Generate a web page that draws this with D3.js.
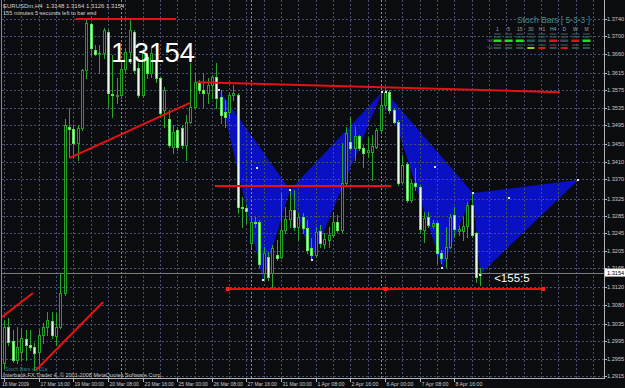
<!DOCTYPE html>
<html><head><meta charset="utf-8">
<script src="https://cdn.jsdelivr.net/npm/d3@7"></script>
<style>
html,body{margin:0;padding:0;background:#0b0c10;}
svg{display:block;}
text{font-family:"Liberation Sans",Arial,sans-serif;white-space:pre;}
</style></head><body>
<svg id="c" width="625" height="388"></svg>
<script>
// ---------------- data ----------------
const opens  = [1.2945,1.3029,1.2996,1.2952,1.2971,1.3001,1.2987,1.2982,1.2971,1.3010,1.3029,1.3042,1.3008,1.3029,1.3107,1.3491,1.3486,1.3454,1.3488,1.3622,1.3728,1.3668,1.3659,1.3662,1.3710,1.3567,1.3562,1.3564,1.3625,1.3664,1.3710,1.3627,1.3564,1.3652,1.3615,1.3645,1.3604,1.3530,1.3510,1.3444,1.3484,1.3488,1.3449,1.3502,1.3537,1.3594,1.3576,1.3569,1.3588,1.3606,1.3560,1.3525,1.3525,1.3564,1.3564,1.3306,1.3303,1.3223,1.3271,1.3271,1.3153,1.3190,1.3153,1.3195,1.3190,1.3253,1.3278,1.3299,1.3259,1.3283,1.3257,1.3211,1.3195,1.3250,1.3220,1.3230,1.3241,1.3271,1.3253,1.3361,1.3456,1.3442,1.3470,1.3442,1.3433,1.3433,1.3444,1.3484,1.3541,1.3571,1.3530,1.3502,1.3364,1.3405,1.3322,1.3361,1.3352,1.3253,1.3283,1.3262,1.3269,1.3199,1.3188,1.3213,1.3287,1.3250,1.3250,1.3262,1.3310,1.3246,1.3148];
const highs  = [1.3045,1.3049,1.3022,1.3029,1.3026,1.3022,1.3022,1.2992,1.3022,1.3038,1.3063,1.3063,1.3061,1.3153,1.3510,1.3534,1.3495,1.3495,1.3625,1.3738,1.3731,1.3680,1.3680,1.3719,1.3715,1.3657,1.3604,1.3645,1.3673,1.3738,1.3715,1.3638,1.3668,1.3662,1.3675,1.3652,1.3606,1.3583,1.3530,1.3495,1.3491,1.3495,1.3518,1.3638,1.3615,1.3599,1.3615,1.3604,1.3611,1.3638,1.3576,1.3553,1.3571,1.3588,1.3569,1.3329,1.3310,1.3283,1.3283,1.3276,1.3213,1.3202,1.3218,1.3230,1.3338,1.3306,1.3345,1.3345,1.3292,1.3292,1.3276,1.3234,1.3259,1.3264,1.3246,1.3259,1.3294,1.3287,1.3454,1.3491,1.3514,1.3491,1.3472,1.3449,1.3468,1.3472,1.3488,1.3571,1.3583,1.3576,1.3534,1.3507,1.3426,1.3409,1.3368,1.3396,1.3357,1.3294,1.3294,1.3276,1.3271,1.3206,1.3259,1.3290,1.3306,1.3262,1.3283,1.3317,1.3336,1.3248,1.3164];
const lows   = [1.2934,1.2987,1.2947,1.2945,1.2952,1.2952,1.2975,1.2929,1.2945,1.2992,1.3010,1.3003,1.2987,1.3026,1.3102,1.3421,1.3419,1.3414,1.3484,1.3604,1.3657,1.3657,1.3615,1.3650,1.3537,1.3514,1.3546,1.3558,1.3615,1.3638,1.3615,1.3560,1.3560,1.3604,1.3606,1.3594,1.3514,1.3491,1.3444,1.3430,1.3437,1.3442,1.3414,1.3500,1.3534,1.3569,1.3537,1.3546,1.3558,1.3534,1.3500,1.3491,1.3511,1.3553,1.3292,1.3259,1.3269,1.3213,1.3259,1.3167,1.3137,1.3137,1.3121,1.3183,1.3188,1.3246,1.3259,1.3253,1.3230,1.3246,1.3199,1.3183,1.3190,1.3213,1.3211,1.3213,1.3236,1.3248,1.3248,1.3357,1.3437,1.3414,1.3437,1.3398,1.3421,1.3368,1.3442,1.3479,1.3537,1.3523,1.3500,1.3357,1.3361,1.3317,1.3317,1.3345,1.3246,1.3225,1.3259,1.3257,1.3176,1.3176,1.3167,1.3211,1.3236,1.3241,1.3230,1.3236,1.3236,1.3132,1.3126];
const closes = [1.3029,1.2994,1.2952,1.2982,1.3003,1.2987,1.2982,1.2968,1.3010,1.3029,1.3045,1.3010,1.3029,1.3107,1.3495,1.3486,1.3454,1.3488,1.3622,1.3731,1.3673,1.3659,1.3662,1.3715,1.3569,1.3564,1.3564,1.3625,1.3664,1.3715,1.3622,1.3564,1.3662,1.3615,1.3662,1.3604,1.3523,1.3576,1.3449,1.3479,1.3444,1.3449,1.3502,1.3537,1.3594,1.3576,1.3569,1.3588,1.3606,1.3558,1.3518,1.3514,1.3564,1.3569,1.3306,1.3303,1.3296,1.3271,1.3269,1.3174,1.3199,1.3144,1.3211,1.3188,1.3253,1.3278,1.3299,1.3259,1.3283,1.3257,1.3206,1.3195,1.3248,1.3223,1.3232,1.3241,1.3271,1.3253,1.3361,1.3477,1.3442,1.3470,1.3442,1.3430,1.3437,1.3447,1.3484,1.3541,1.3571,1.3530,1.3502,1.3361,1.3403,1.3322,1.3361,1.3354,1.3255,1.3280,1.3264,1.3269,1.3199,1.3188,1.3213,1.3283,1.3255,1.3255,1.3262,1.3310,1.3241,1.3144,1.3154];

const priceTicks = [1.3740,1.3700,1.3660,1.3615,1.3575,1.3535,1.3495,1.3450,1.3410,1.3370,1.3325,1.3285,1.3245,1.3205,1.3165,1.3120,1.3080,1.3035,1.2995,1.2955,1.2915];
const timeTickBars = [0,8,16,24,32,40,48,56,64,72,80,88,96,104];
const timeTickLabels = ["16 Mar 2009","17 Mar 16:00","19 Mar 00:00","20 Mar 08:00","23 Mar 16:00","25 Mar 00:00","26 Mar 08:00","27 Mar 16:00","31 Mar 00:00","1 Apr 08:00","2 Apr 16:00","6 Apr 00:00","7 Apr 08:00","8 Apr 16:00"];
const weekSeparatorBars = [27.1, 57.1, 87.1];

const bidPrice = 1.3154;

// harmonic pattern points X,A,B,C,D
const pattern1Bars   = [49.7, 59.8, 66.05, 71.1, 87.3];
const pattern1Prices = [1.3576, 1.3137, 1.3345, 1.3183, 1.3571];
const pattern2Bars   = [88.2, 101.2, 108.3, 109.9, 132.6];
const pattern2Prices = [1.3571, 1.3165, 1.3338, 1.3149, 1.3368];
const markerBars   = [58.4, 99.5, 116.6];
const markerPrices = [1.3396, 1.3398, 1.3326];

// red trend lines
const trendStartBars   = [16.6, 15.2, 44.6, 48.7, 51.7, -0.5, 7.4];
const trendStartPrices = [1.3740, 1.3419, 1.3594, 1.3354, 1.3116, 1.3051, 1.2929];
const trendEndBars     = [39.7, 42.96, 128.4, 89.4, 124.5, 6.7, 22.9];
const trendEndPrices   = [1.3740, 1.3546, 1.3571, 1.3354, 1.3116, 1.3107, 1.3086];

// stoch bars panel
const stochFrames = ["1","5","15","30","H1","H4","D","W","M"];
const stochMain   = ["up","up","up","flat","flat","down","flat","down","up"];
const stochSignal = ["flat","flat","flat","weak","down","flat","down","flat","flat"];

// ---------------- drawing ----------------
const W = 625, H = 388;
const plotL = 2, plotR = 604, plotT = 0, plotB = 378;
const x = d3.scaleLinear().domain([0, 139]).range([4, 4 + 139 * 4.33]);
const y = d3.scaleLinear().domain([1.2915, 1.3740]).range([376, 19]);
const px = v => Math.round(x(v)) + 0.5;
const py = v => Math.round(y(v)) + 0.5;

const svg = d3.select("#c");
svg.append("rect").attr("width", W).attr("height", H).attr("fill", "#0b0c10");

svg.append("defs").append("clipPath").attr("id", "plot")
  .append("rect").attr("x", plotL).attr("y", plotT).attr("width", plotR - plotL).attr("height", plotB - plotT);
const g = svg.append("g").attr("clip-path", "url(#plot)");

// blue pattern triangles (background objects)
function triangles(bars, prices) {
  const p = bars.map((b, i) => [x(b), y(prices[i])]);
  return [[p[0], p[1], p[2]], [p[2], p[3], p[4]]];
}
const tris = triangles(pattern1Bars, pattern1Prices).concat(triangles(pattern2Bars, pattern2Prices));
g.selectAll("polygon.tri").data(tris).join("polygon")
  .attr("points", d => d.map(q => q.join(",")).join(" "))
  .attr("fill", "#0a10c4");

// grid
g.selectAll("line.hg").data(priceTicks).join("line")
  .attr("x1", plotL).attr("x2", plotR).attr("y1", d => py(d)).attr("y2", d => py(d))
  .attr("stroke", "#46506a").attr("stroke-dasharray", "2,2");
g.selectAll("line.vg").data(d3.range(0, 140, 4)).join("line")
  .attr("x1", d => px(d)).attr("x2", d => px(d)).attr("y1", plotT).attr("y2", plotB)
  .attr("stroke", "#46506a").attr("stroke-dasharray", "2,2");
g.selectAll("line.sep").data(weekSeparatorBars).join("line")
  .attr("x1", d => px(d)).attr("x2", d => px(d)).attr("y1", plotT).attr("y2", plotB)
  .attr("stroke", "#8a90a4").attr("stroke-dasharray", "2,2");

// bid line
g.append("line").attr("x1", plotL).attr("x2", plotR)
  .attr("y1", py(bidPrice)).attr("y2", py(bidPrice)).attr("stroke", "#7a7a7a");

// candles
const bars = opens.map((o, i) => ({ i, o, h: highs[i], l: lows[i], c: closes[i] }));
const cg = g.append("g");
cg.selectAll("line.wick").data(bars).join("line")
  .attr("x1", d => px(d.i)).attr("x2", d => px(d.i))
  .attr("y1", d => Math.round(y(d.h))).attr("y2", d => Math.round(y(d.l)) + 1)
  .attr("stroke", "#26a626").attr("stroke-width", 1);
cg.selectAll("rect.body").data(bars).join("rect")
  .attr("x", d => px(d.i) - 1)
  .attr("y", d => Math.round(y(Math.max(d.o, d.c))) + 0.5)
  .attr("width", 2)
  .attr("height", d => Math.max(0.01, Math.round(y(Math.min(d.o, d.c))) - Math.round(y(Math.max(d.o, d.c)))))
  .attr("fill", d => d.c >= d.o ? "#0b0c10" : "#eaffea")
  .attr("stroke", d => d.c >= d.o ? "#23a023" : "#5ee05e")
  .attr("stroke-width", 1);

// red trend lines
const trends = trendStartBars.map((b, i) => ({ b1: b, p1: trendStartPrices[i], b2: trendEndBars[i], p2: trendEndPrices[i] }));
g.selectAll("line.trend").data(trends).join("line")
  .attr("x1", d => x(d.b1)).attr("y1", d => y(d.p1))
  .attr("x2", d => x(d.b2)).attr("y2", d => y(d.p2))
  .attr("stroke", "#e81010").attr("stroke-width", 2);
const sel = trends[4];
g.selectAll("rect.anchor").data([sel.b1, (sel.b1 + sel.b2) / 2, sel.b2]).join("rect")
  .attr("x", d => x(d) - 2).attr("y", y(sel.p1) - 2).attr("width", 4).attr("height", 4)
  .attr("fill", "#ff2020");

// pattern vertex dots
const dots = pattern1Bars.map((b, i) => [b, pattern1Prices[i]])
  .concat(pattern2Bars.map((b, i) => [b, pattern2Prices[i]]))
  .concat(markerBars.map((b, i) => [b, markerPrices[i]]));
g.selectAll("rect.dot").data(dots).join("rect")
  .attr("x", d => Math.round(x(d[0])) - 1).attr("y", d => Math.round(y(d[1])) - 1)
  .attr("width", 2).attr("height", 2).attr("fill", "#dfe6ff");

// big price text and countdown
g.append("text").attr("x", x(24.7)).attr("y", y(1.3641))
  .attr("font-size", 28).attr("fill", "#ffffff").attr("textLength", 84).attr("lengthAdjust", "spacingAndGlyphs").text("1.3154");
g.append("text").attr("x", x(113.2)).attr("y", y(1.3132))
  .attr("font-size", 11.5).attr("fill", "#ffffff").text("<155:5");

// header
svg.append("text").attr("x", 3).attr("y", 8).attr("font-size", 6).attr("fill", "#d4d4d4")
  .text("EURUSDm,H4  1.3148 1.3164 1.3126 1.3154");
svg.append("text").attr("x", 3).attr("y", 14.5).attr("font-size", 5.6).attr("fill", "#d4d4d4")
  .text("155 minutes 5 seconds left to bar end");

// stoch bars panel
svg.append("text").attr("x", 517).attr("y", 23).attr("font-size", 9).attr("fill", "#3d8c8c")
  .attr("textLength", 73).attr("lengthAdjust", "spacingAndGlyphs").text("Stoch Bars [ 5-3-3 ]");
const colX = d3.scalePoint().domain(stochFrames).range([497.5, 586.5]);
svg.selectAll("text.tf").data(stochFrames).join("text")
  .attr("x", d => colX(d)).attr("y", 30.5).attr("text-anchor", "middle")
  .attr("font-size", 5).attr("fill", "#9aa4a4").text(d => d);
const stochColor = { up: "#19e619", down: "#e01414", flat: "#2f4f4f", weak: "#a8c81e" };
[33.5, 36.5, 44.5].forEach(r => {
  svg.selectAll(null).data(stochFrames).join("rect")
    .attr("x", d => colX(d) - 3.5).attr("y", r).attr("width", 7).attr("height", 1)
    .attr("fill", "#3c6464");
});
svg.selectAll("rect.sm").data(stochMain).join("rect")
  .attr("x", (d, i) => colX(stochFrames[i]) - 4).attr("y", 39.5).attr("width", 8).attr("height", 2.5)
  .attr("fill", d => stochColor[d]);
svg.selectAll("rect.ss").data(stochSignal).join("rect")
  .attr("x", (d, i) => colX(stochFrames[i]) - 3.5).attr("y", 47).attr("width", 7).attr("height", 2)
  .attr("fill", d => stochColor[d]);
svg.append("text").attr("x", 487).attr("y", 42).attr("font-size", 4).attr("fill", "#6a8080").text("%K");
svg.append("text").attr("x", 487).attr("y", 49).attr("font-size", 4).attr("fill", "#6a8080").text("%D");

// bottom-left texts
svg.append("text").attr("x", 5).attr("y", 370.5).attr("font-size", 5.2).attr("fill", "#3d8080")
  .text("Stoch Bars v3.01a");
svg.append("text").attr("x", 3).attr("y", 376.5).attr("font-size", 5.6).attr("fill", "#c8c8c8")
  .attr("textLength", 159).attr("lengthAdjust", "spacingAndGlyphs")
  .text("Interbank FX Trader 4, © 2001-2008 MetaQuotes Software Corp.");

// axes frame
svg.append("line").attr("x1", 1.5).attr("x2", 1.5).attr("y1", 0).attr("y2", plotB).attr("stroke", "#8a8a8a");
svg.append("line").attr("x1", plotR + 0.5).attr("x2", plotR + 0.5).attr("y1", 0).attr("y2", plotB + 1).attr("stroke", "#b4b4b4");
svg.append("line").attr("x1", 1).attr("x2", plotR + 1).attr("y1", plotB + 0.5).attr("y2", plotB + 0.5).attr("stroke", "#b4b4b4");

// price axis
svg.selectAll("line.ptick").data(priceTicks).join("line")
  .attr("x1", plotR).attr("x2", plotR + 3).attr("y1", d => py(d)).attr("y2", d => py(d)).attr("stroke", "#b4b4b4");
svg.selectAll("text.plab").data(priceTicks).join("text")
  .attr("x", 607).attr("y", d => y(d) + 2).attr("font-size", 5.6).attr("fill", "#c8c8c8")
  .text(d => d.toFixed(4));
svg.append("rect").attr("x", 605).attr("y", y(bidPrice) - 4).attr("width", 20).attr("height", 8).attr("fill", "#ffffff");
svg.append("text").attr("x", 607).attr("y", y(bidPrice) + 2).attr("font-size", 5.6).attr("fill", "#000000")
  .text(bidPrice.toFixed(4));

// time axis
svg.selectAll("line.ttick").data(timeTickBars).join("line")
  .attr("x1", d => px(d)).attr("x2", d => px(d)).attr("y1", plotB).attr("y2", plotB + 4).attr("stroke", "#b4b4b4");
svg.selectAll("text.tlab").data(timeTickBars).join("text")
  .attr("x", (d, i) => i === 0 ? 2 : px(d) + 1).attr("y", 385.5).attr("font-size", 5.2).attr("fill", "#c8c8c8")
  .attr("textLength", (d, i) => i === 0 ? 27 : timeTickLabels[i].length * 2.45)
  .attr("lengthAdjust", "spacingAndGlyphs")
  .text((d, i) => timeTickLabels[i]);
</script>
</body></html>
